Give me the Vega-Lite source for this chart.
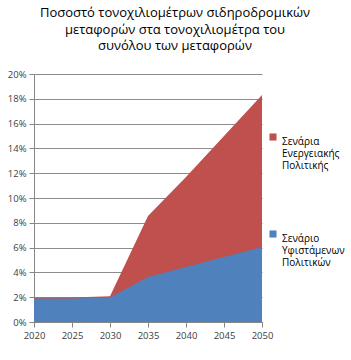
{
  "$schema": "https://vega.github.io/schema/vega-lite/v6.json",
  "width": 228,
  "height": 248,
  "autosize": {"type": "none"},
  "padding": {"left": 34, "top": 74, "right": 89, "bottom": 38},
  "background": "white",
  "title": {
    "text": ["Ποσοστό τονοχιλιομέτρων σιδηροδρομικών", "μεταφορών στα τονοχιλιομέτρα του", "συνόλου των μεταφορών"],
    "font": "Open Sans",
    "fontSize": 13,
    "fontWeight": "normal",
    "color": "#000000",
    "lineHeight": 16.5,
    "anchor": "middle",
    "dx": 27,
    "offset": 16
  },
  "data": {
    "values": [
      {"year": 2020, "series": "Σενάρια Ενεργειακής Πολιτικής", "value": 0.0195},
      {"year": 2025, "series": "Σενάρια Ενεργειακής Πολιτικής", "value": 0.0197},
      {"year": 2030, "series": "Σενάρια Ενεργειακής Πολιτικής", "value": 0.0207},
      {"year": 2035, "series": "Σενάρια Ενεργειακής Πολιτικής", "value": 0.0855},
      {"year": 2040, "series": "Σενάρια Ενεργειακής Πολιτικής", "value": 0.117},
      {"year": 2045, "series": "Σενάρια Ενεργειακής Πολιτικής", "value": 0.150},
      {"year": 2050, "series": "Σενάρια Ενεργειακής Πολιτικής", "value": 0.183},
      {"year": 2020, "series": "Σενάριο Υφιστάμενων Πολιτικών", "value": 0.019},
      {"year": 2025, "series": "Σενάριο Υφιστάμενων Πολιτικών", "value": 0.019},
      {"year": 2030, "series": "Σενάριο Υφιστάμενων Πολιτικών", "value": 0.0198},
      {"year": 2035, "series": "Σενάριο Υφιστάμενων Πολιτικών", "value": 0.0363},
      {"year": 2040, "series": "Σενάριο Υφιστάμενων Πολιτικών", "value": 0.0443},
      {"year": 2045, "series": "Σενάριο Υφιστάμενων Πολιτικών", "value": 0.0525},
      {"year": 2050, "series": "Σενάριο Υφιστάμενων Πολιτικών", "value": 0.0605}
    ]
  },
  "encoding": {
    "x": {
      "field": "year", "type": "quantitative",
      "scale": {"domain": [2020, 2050], "nice": false, "zero": false},
      "axis": {"values": [2020, 2025, 2030, 2035, 2040, 2045, 2050], "format": "d", "title": null, "grid": false,
        "domainColor": "#868686", "tickColor": "#868686", "tickSize": 5, "labelFont": "Open Sans", "labelFontSize": 9.5, "labelColor": "#404040", "labelPadding": 3, "labelFlush": false}
    },
    "y": {
      "field": "value", "type": "quantitative", "stack": null,
      "scale": {"domain": [0, 0.2], "nice": false},
      "axis": {"values": [0, 0.02, 0.04, 0.06, 0.08, 0.1, 0.12, 0.14, 0.16, 0.18, 0.2], "format": ".0%", "title": null,
        "grid": true, "gridColor": "#8c8c8c", "gridWidth": 1,
        "domainColor": "#868686", "tickColor": "#868686", "tickSize": 5, "labelFont": "Open Sans", "labelFontSize": 9.5, "labelColor": "#404040", "labelPadding": 3}
    },
    "color": {
      "field": "series", "type": "nominal",
      "scale": {"domain": ["Σενάρια Ενεργειακής Πολιτικής", "Σενάριο Υφιστάμενων Πολιτικών"], "range": ["#C0504D", "#4F81BD"]},
      "legend": {
        "title": null, "orient": "none", "legendX": 234, "legendY": 58,
        "symbolType": "square", "symbolSize": 50, "symbolOpacity": 1, "symbolStrokeWidth": 0,
        "labelFont": "Open Sans", "labelFontSize": 10, "labelColor": "#000000", "labelLineHeight": 13.5,
        "labelAlign": "left", "labelBaseline": "top", "labelOffset": 4, "rowPadding": 58, "labelLimit": 0,
        "labelExpr": "replace(datum.label, / /g, '\\n')",
        "encode": {"labels": {"update": {"lineBreak": {"value": "\n"}, "align": {"value": "left"}}}}
      }
    }
  },
  "layer": [
    {"transform": [{"filter": "datum.series == 'Σενάρια Ενεργειακής Πολιτικής'"}], "mark": {"type": "area", "opacity": 1}},
    {"transform": [{"filter": "datum.series == 'Σενάριο Υφιστάμενων Πολιτικών'"}], "mark": {"type": "area", "opacity": 1}}
  ],
  "config": {"view": {"stroke": null}}
}
